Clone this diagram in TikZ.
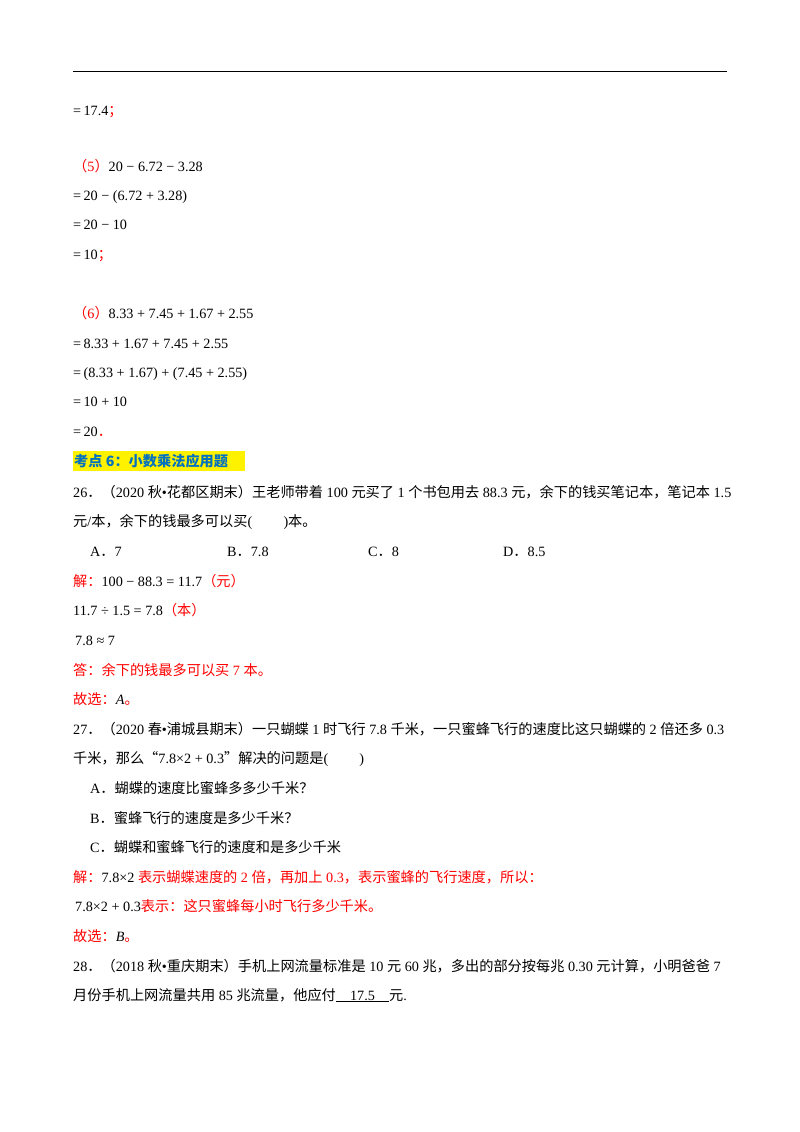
\documentclass[tikz,border=0pt]{standalone}
\usepackage{fontspec}
\setmainfont{Liberation Serif}
\newfontfamily\cjk{Noto Sans CJK SC}
\newcommand{\zh}[1]{{\cjk #1}}
\definecolor{hdr}{RGB}{0,112,192}
\definecolor{rd}{RGB}{255,0,0}
\begin{document}
\begin{tikzpicture}[x=1pt,y=-1pt,
  ln/.style={anchor=base west,inner sep=0pt,font=\fontsize{14.2}{15}\selectfont},
  red/.style={text=rd}]
\useasboundingbox (0,0) rectangle (800,1132);
\fill[white] (0,0) rectangle (800,1132);
\coordinate (r1) at (73,71); \coordinate (r2) at (727,71);
\draw[line width=0.8pt] (r1) -- (r2);
\node[ln] (a1) at (73,115) {=\,17.4\textcolor{rd}{\zh{；}}};
\node[ln] (a2) at (73,171) {\textcolor{rd}{\zh{（}5\zh{）}}20 − 6.72 − 3.28};
\node[ln] (a3) at (73,200) {=\,20 − (6.72 + 3.28)};
\node[ln] (a4) at (73,229) {=\,20 − 10};
\node[ln] (a5) at (73,259) {=\,10\textcolor{rd}{\zh{；}}};
\node[ln] (b1) at (73,318) {\textcolor{rd}{\zh{（}6\zh{）}}8.33 + 7.45 + 1.67 + 2.55};
\node[ln] (b2) at (73,348) {=\,8.33 + 1.67 + 7.45 + 2.55};
\node[ln] (b3) at (73,377) {=\,(8.33 + 1.67) + (7.45 + 2.55)};
\node[ln] (b4) at (73,406) {=\,10 + 10};
\node[ln] (b5) at (73,436) {=\,20\textcolor{rd}{\zh{．}}};
\fill[yellow] (73,451) rectangle (245,471);
\node[ln,text=hdr,font=\fontsize{14.2}{15}\selectfont\bfseries] (h) at (74,466) {\zh{考点 6：小数乘法应用题}};
\node[ln] (q1) at (73,497) {26\zh{．（}2020 \zh{秋}•\zh{花都区期末）王老师带着} 100 \zh{元买了} 1 \zh{个书包用去} 88.3 \zh{元，余下的钱买笔记本，笔记本} 1.5};
\node[ln] (q2) at (73,526) {\zh{元}/\zh{本，余下的钱最多可以买}(\hspace{2.2em})\zh{本。}};
\node[ln] (oA) at (90,556) {A\zh{．}7};
\node[ln] (oB) at (227,556) {B\zh{．}7.8};
\node[ln] (oC) at (368,556) {C\zh{．}8};
\node[ln] (oD) at (503,556) {D\zh{．}8.5};
\node[ln] (s1) at (73,586) {\textcolor{rd}{\zh{解：}}100 − 88.3 = 11.7\textcolor{rd}{\zh{（元）}}};
\node[ln] (s2) at (73,615) {11.7 ÷ 1.5 = 7.8\textcolor{rd}{\zh{（本）}}};
\node[ln] (s3) at (75,645) {7.8 ≈ 7};
\node[ln,red] (s4) at (73,675) {\zh{答：余下的钱最多可以买} 7 \zh{本。}};
\node[ln,red] (s5) at (73,704) {\zh{故选：}\textcolor{black}{\textit{A}}\zh{。}};
\node[ln] (p1) at (73,734) {27\zh{．（}2020 \zh{春}•\zh{浦城县期末）一只蝴蝶} 1 \zh{时飞行} 7.8 \zh{千米，一只蜜蜂飞行的速度比这只蝴蝶的} 2 \zh{倍还多} 0.3};
\node[ln] (p2) at (73,763) {\zh{千米，那么“}7.8×2 + 0.3\zh{”解决的问题是}(\hspace{2.2em})};
\node[ln] (pA) at (90,793) {A\zh{．蝴蝶的速度比蜜蜂多多少千米？}};
\node[ln] (pB) at (90,823) {B\zh{．蜜蜂飞行的速度是多少千米？}};
\node[ln] (pC) at (90,852) {C\zh{．蝴蝶和蜜蜂飞行的速度和是多少千米}};
\node[ln,red] (t1) at (73,882) {\zh{解：}\textcolor{black}{7.8×2} \zh{表示蝴蝶速度的} 2 \zh{倍，再加上} 0.3\zh{，表示蜜蜂的飞行速度，所以：}};
\node[ln,red] (t2) at (75,911) {\textcolor{black}{7.8×2 + 0.3}\zh{表示：这只蜜蜂每小时飞行多少千米。}};
\node[ln,red] (t3) at (73,941) {\zh{故选：}\textcolor{black}{\textit{B}}\zh{。}};
\node[ln] (u1) at (73,971) {28\zh{．（}2018 \zh{秋}•\zh{重庆期末）手机上网流量标准是} 10 \zh{元} 60 \zh{兆，多出的部分按每兆} 0.30 \zh{元计算，小明爸爸} 7};
\node[ln] (u2) at (73,1000) {\zh{月份手机上网流量共用} 85 \zh{兆流量，他应付}\underline{\hspace{1em}17.5\hspace{1em}}\zh{元}.};
\end{tikzpicture}
\end{document}
